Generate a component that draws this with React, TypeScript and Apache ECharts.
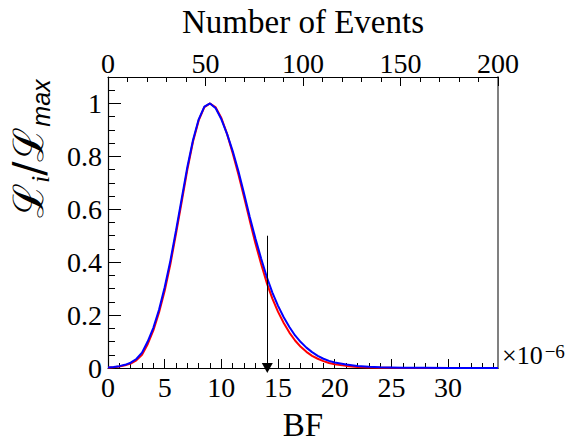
import React, { useEffect, useRef } from "react";
import * as echarts from "echarts";

// BF values (units of 1e-6)
const bfGrid = [
  0, 0.5, 1, 1.5, 2, 2.5, 3, 3.5, 4, 4.5, 5, 5.5, 6, 6.5, 7, 7.5, 8, 8.5, 9, 9.5,
  10, 10.5, 11, 11.5, 12, 12.5, 13, 13.5, 14, 14.5, 15, 15.5, 16, 16.5, 17, 17.5,
  18, 18.5, 19, 19.5, 20, 21, 22, 23, 24, 25, 26, 28, 30, 32, 34.4,
];
const blueLik = [
  0.002, 0.004, 0.007, 0.012, 0.02, 0.034, 0.058, 0.1, 0.152, 0.22, 0.305, 0.405, 0.52, 0.64, 0.76, 0.862, 0.94, 0.988, 1.0, 0.982,
  0.94, 0.885, 0.82, 0.745, 0.66, 0.572, 0.49, 0.415, 0.345, 0.285, 0.235, 0.192, 0.155, 0.123, 0.098, 0.077,
  0.06, 0.046, 0.035, 0.027, 0.021, 0.013, 0.008, 0.005, 0.003, 0.002, 0.001, 0.0005, 0.0002, 0.0001, 0,
];
const redLik = [
  0.001, 0.003, 0.006, 0.01, 0.017, 0.029, 0.05, 0.09, 0.142, 0.21, 0.292, 0.392, 0.508, 0.628, 0.75, 0.856, 0.936, 0.986, 1.0, 0.985,
  0.945, 0.885, 0.812, 0.732, 0.646, 0.558, 0.472, 0.394, 0.322, 0.262, 0.212, 0.17, 0.134, 0.104, 0.08, 0.061,
  0.046, 0.035, 0.026, 0.019, 0.014, 0.008, 0.004, 0.002, 0.001, 0.0005, 0.0002, 0, 0, 0, 0,
];

const BF_MAX = 34.4;
const EVENTS_MAX = 200;
const Y_MAX = 1.1;
const bfMajorTicks = [0, 5, 10, 15, 20, 25, 30];
const bfMinorTicks = [1, 2, 3, 4, 6, 7, 8, 9, 11, 12, 13, 14, 16, 17, 18, 19, 21, 22, 23, 24, 26, 27, 28, 29, 31, 32, 33, 34];
const yMajorTicks = [0, 0.2, 0.4, 0.6, 0.8, 1];
const yMinorTicks = [0.05, 0.1, 0.15, 0.25, 0.3, 0.35, 0.45, 0.5, 0.55, 0.65, 0.7, 0.75, 0.85, 0.9, 0.95, 1.05];

// arrow marker (BF limit)
const arrowBF = 14.05;
const arrowTop = 0.5;

const SERIF = "'Liberation Serif', 'Times New Roman', serif";
const SANS = "'Liberation Sans', Arial, sans-serif";

export default function App() {
  const ref = useRef<HTMLDivElement>(null);
  useEffect(() => {
    document.body.style.margin = "0";
    const chart = echarts.init(ref.current!, null, { renderer: "svg" });
    const tickLabel = { fontFamily: SERIF, fontSize: 28, color: "#000" };
    const nameStyle = { fontFamily: SERIF, fontSize: 33, color: "#000" };
    chart.setOption({
      animation: false,
      backgroundColor: "#fff",
      grid: { left: 108, right: 81, top: 77, bottom: 73, containLabel: false, outerBoundsMode: "none" },
      xAxis: [
        {
          type: "value", position: "bottom", min: 0, max: BF_MAX, interval: 5,
          axisLine: { show: true, onZero: false, lineStyle: { color: "#000", width: 1.2 } },
          axisTick: { show: true, inside: true, length: 9, customValues: bfMajorTicks, lineStyle: { color: "#000", width: 1 } },
          axisLabel: { ...tickLabel, margin: 5, customValues: bfMajorTicks },
          splitLine: { show: false },
          name: "BF", nameLocation: "middle", nameGap: 40, nameTextStyle: nameStyle,
        },
        {
          type: "value", position: "top", min: 0, max: EVENTS_MAX, interval: 50,
          axisLine: { show: true, onZero: false, lineStyle: { color: "#000", width: 1.2 } },
          axisTick: { show: true, inside: true, length: 9, lineStyle: { color: "#000", width: 1 } },
          minorTick: { show: true, splitNumber: 5, length: 5, lineStyle: { color: "#000", width: 1 } },
          axisLabel: { ...tickLabel, margin: 0 },
          splitLine: { show: false },
          name: "Number of Events", nameLocation: "middle", nameGap: 39, nameTextStyle: nameStyle,
        },
        {
          type: "value", position: "bottom", min: 0, max: BF_MAX, interval: 1,
          axisLine: { show: false },
          axisTick: { show: true, inside: true, length: 5, customValues: bfMinorTicks, lineStyle: { color: "#000", width: 1 } },
          axisLabel: { show: false },
          splitLine: { show: false },
        },
      ],
      yAxis: [
        {
          type: "value", position: "left", min: 0, max: Y_MAX, interval: 0.2,
          axisLine: { show: true, onZero: false, lineStyle: { color: "#000", width: 1.2 } },
          axisTick: { show: true, inside: true, length: 13, customValues: yMajorTicks, lineStyle: { color: "#000", width: 1 } },
          axisLabel: { ...tickLabel, margin: 6, customValues: yMajorTicks },
          splitLine: { show: false },
        },
        {
          type: "value", position: "left", min: 0, max: Y_MAX, interval: 0.05,
          axisLine: { show: false },
          axisTick: { show: true, inside: true, length: 7, customValues: yMinorTicks, lineStyle: { color: "#000", width: 1 } },
          axisLabel: { show: false },
          splitLine: { show: false },
        },
        {
          type: "value", position: "right", min: 0, max: Y_MAX,
          axisLine: { show: true, onZero: false, lineStyle: { color: "#808080", width: 2 } },
          axisTick: { show: false },
          axisLabel: { show: false },
          splitLine: { show: false },
        },
      ],
      series: [
        {
          type: "line", xAxisIndex: 0, yAxisIndex: 0, showSymbol: false, symbol: "none",
          lineStyle: { color: "#ff0000", width: 2 }, itemStyle: { color: "#ff0000" },
          data: bfGrid.map((x, i) => [x, redLik[i]]),
          markLine: {
            silent: true, animation: false,
            symbol: ["none", "triangle"], symbolSize: [11, 10], symbolOffset: [-5, 0],
            label: { show: false },
            lineStyle: { color: "#000", width: 1, type: "solid" },
            itemStyle: { color: "#000" },
            data: [[{ coord: [arrowBF, arrowTop] }, { coord: [arrowBF, 0] }]],
          },
        },
        {
          type: "line", xAxisIndex: 0, yAxisIndex: 0, showSymbol: false, symbol: "none",
          lineStyle: { color: "#0000ff", width: 2 }, itemStyle: { color: "#0000ff" },
          data: bfGrid.map((x, i) => [x, blueLik[i]]),
        },
      ],
      graphic: [
        {
          type: "text", x: 28, y: 218, rotation: Math.PI / 2,
          style: {
            text: "{L|ℒ}{i|i}{L|/ℒ}{m|max}",
            align: "left", verticalAlign: "middle",
            rich: {
              L: { fontFamily: "'DejaVu Serif', serif", fontSize: 42, lineHeight: 50, fill: "#000" },
              i: { fontFamily: SERIF, fontStyle: "italic", fontSize: 26, lineHeight: 24, verticalAlign: "bottom", fill: "#000" },
              m: { fontFamily: SANS, fontStyle: "italic", fontSize: 25, lineHeight: 24, verticalAlign: "bottom", fill: "#000" },
            },
          },
        },
        {
          type: "text", x: 502, y: 368,
          style: {
            text: "{a|×10}{b|−6}",
            align: "left", verticalAlign: "bottom",
            rich: {
              a: { fontFamily: SERIF, fontSize: 26, lineHeight: 26, verticalAlign: "bottom", fill: "#000" },
              b: { fontFamily: SERIF, fontSize: 19, lineHeight: 19, verticalAlign: "top", padding: [0, 0, 0, 2], fill: "#000" },
            },
          },
        },
      ],
    });
    return () => chart.dispose();
  }, []);
  return <div ref={ref} style={{ width: 579, height: 441 }} />;
}
